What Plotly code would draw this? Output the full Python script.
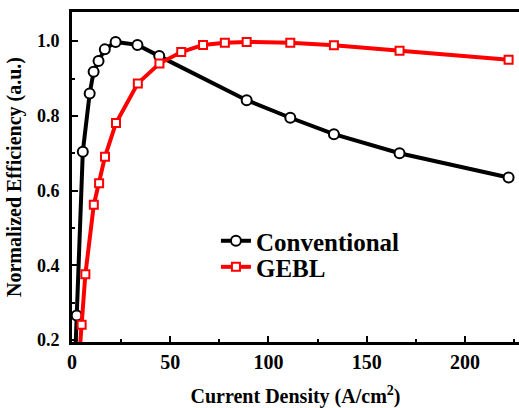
import plotly.graph_objects as go

conv_x = [1.1, 2.4, 5.5, 9.0, 11.0, 13.5, 16.7, 22.2, 33.3, 44.4, 88.9, 111.1, 133.3, 166.7, 222.2]
conv_y = [0.08, 0.266, 0.704, 0.86, 0.918, 0.947, 0.978, 0.998, 0.99, 0.96, 0.842, 0.795, 0.751, 0.70, 0.635]

gebl_x = [2.2, 4.9, 6.8, 11.1, 13.8, 16.8, 22.4, 33.5, 44.5, 55.6, 66.7, 77.8, 88.9, 111.1, 133.3, 166.7, 222.2]
gebl_y = [0.05, 0.241, 0.376, 0.562, 0.62, 0.691, 0.781, 0.887, 0.94, 0.971, 0.99, 0.996, 0.998, 0.996, 0.989, 0.974, 0.95]

series_names = ["Conventional", "GEBL"]
x_ticks = [0, 50, 100, 150, 200]
y_ticks = [0.2, 0.4, 0.6, 0.8, 1.0]

FONT = "Liberation Serif, Times New Roman, serif"

fig = go.Figure()
fig.add_trace(go.Scatter(
    x=conv_x, y=conv_y, name=series_names[0], mode="lines+markers", legend="legend", showlegend=True,
    line=dict(color="#000000", width=4),
    marker=dict(symbol="circle", size=10, color="white", line=dict(color="#000000", width=2)),
))
fig.add_trace(go.Scatter(
    x=gebl_x, y=gebl_y, name=series_names[1], mode="lines+markers", legend="legend2", showlegend=True,
    line=dict(color="#ff0000", width=4),
    marker=dict(symbol="square", size=8, color="white", line=dict(color="#ff0000", width=2)),
))

legend_font = dict(family=FONT, size=25, weight="bold", color="black")

fig.update_layout(
    width=519, height=408,
    showlegend=True,
    margin=dict(l=72, r=0, t=12, b=66),
    paper_bgcolor="white", plot_bgcolor="white",
    font=dict(family=FONT, color="black"),
    legend=dict(x=0.322, y=0.306, xanchor="left", yanchor="middle", font=legend_font,
                bgcolor="rgba(0,0,0,0)", itemwidth=30, visible=True),
    legend2=dict(x=0.322, y=0.227, xanchor="left", yanchor="middle", font=legend_font,
                 bgcolor="rgba(0,0,0,0)", itemwidth=30, visible=True),
    xaxis=dict(
        range=[0, 227.5], tickvals=x_ticks, ticks="inside", ticklen=6, tickwidth=2,
        tickcolor="black", showline=True, linewidth=3, linecolor="black", mirror=True,
        showgrid=False, zeroline=False,
        tickfont=dict(family=FONT, size=20, weight="bold"),
        minor=dict(ticks="inside", ticklen=3, tickwidth=2, dtick=25, tick0=25, tickcolor="black", showgrid=False),
        title=dict(text="Current Density (A/cm<sup>2</sup>)", font=dict(family=FONT, size=20, weight="bold"), standoff=20),
    ),
    yaxis=dict(
        range=[0.195, 1.078], tickvals=y_ticks, tickformat=".1f", ticks="inside", ticklen=6, tickwidth=2,
        tickcolor="black", showline=True, linewidth=3, linecolor="black", mirror=False,
        showgrid=False, zeroline=False, ticklabelstandoff=6,
        tickfont=dict(family=FONT, size=18, weight="bold"),
        minor=dict(ticks="inside", ticklen=3, tickwidth=2, dtick=0.2, tick0=0.3, tickcolor="black", showgrid=False),
        title=dict(text="Normalized Efficiency (a.u.)", font=dict(family=FONT, size=20, weight="bold"), standoff=10),
    ),
)

fig.write_html("out.html", config={"displayModeBar": False},
               post_script="document.body.style.margin='0';")
